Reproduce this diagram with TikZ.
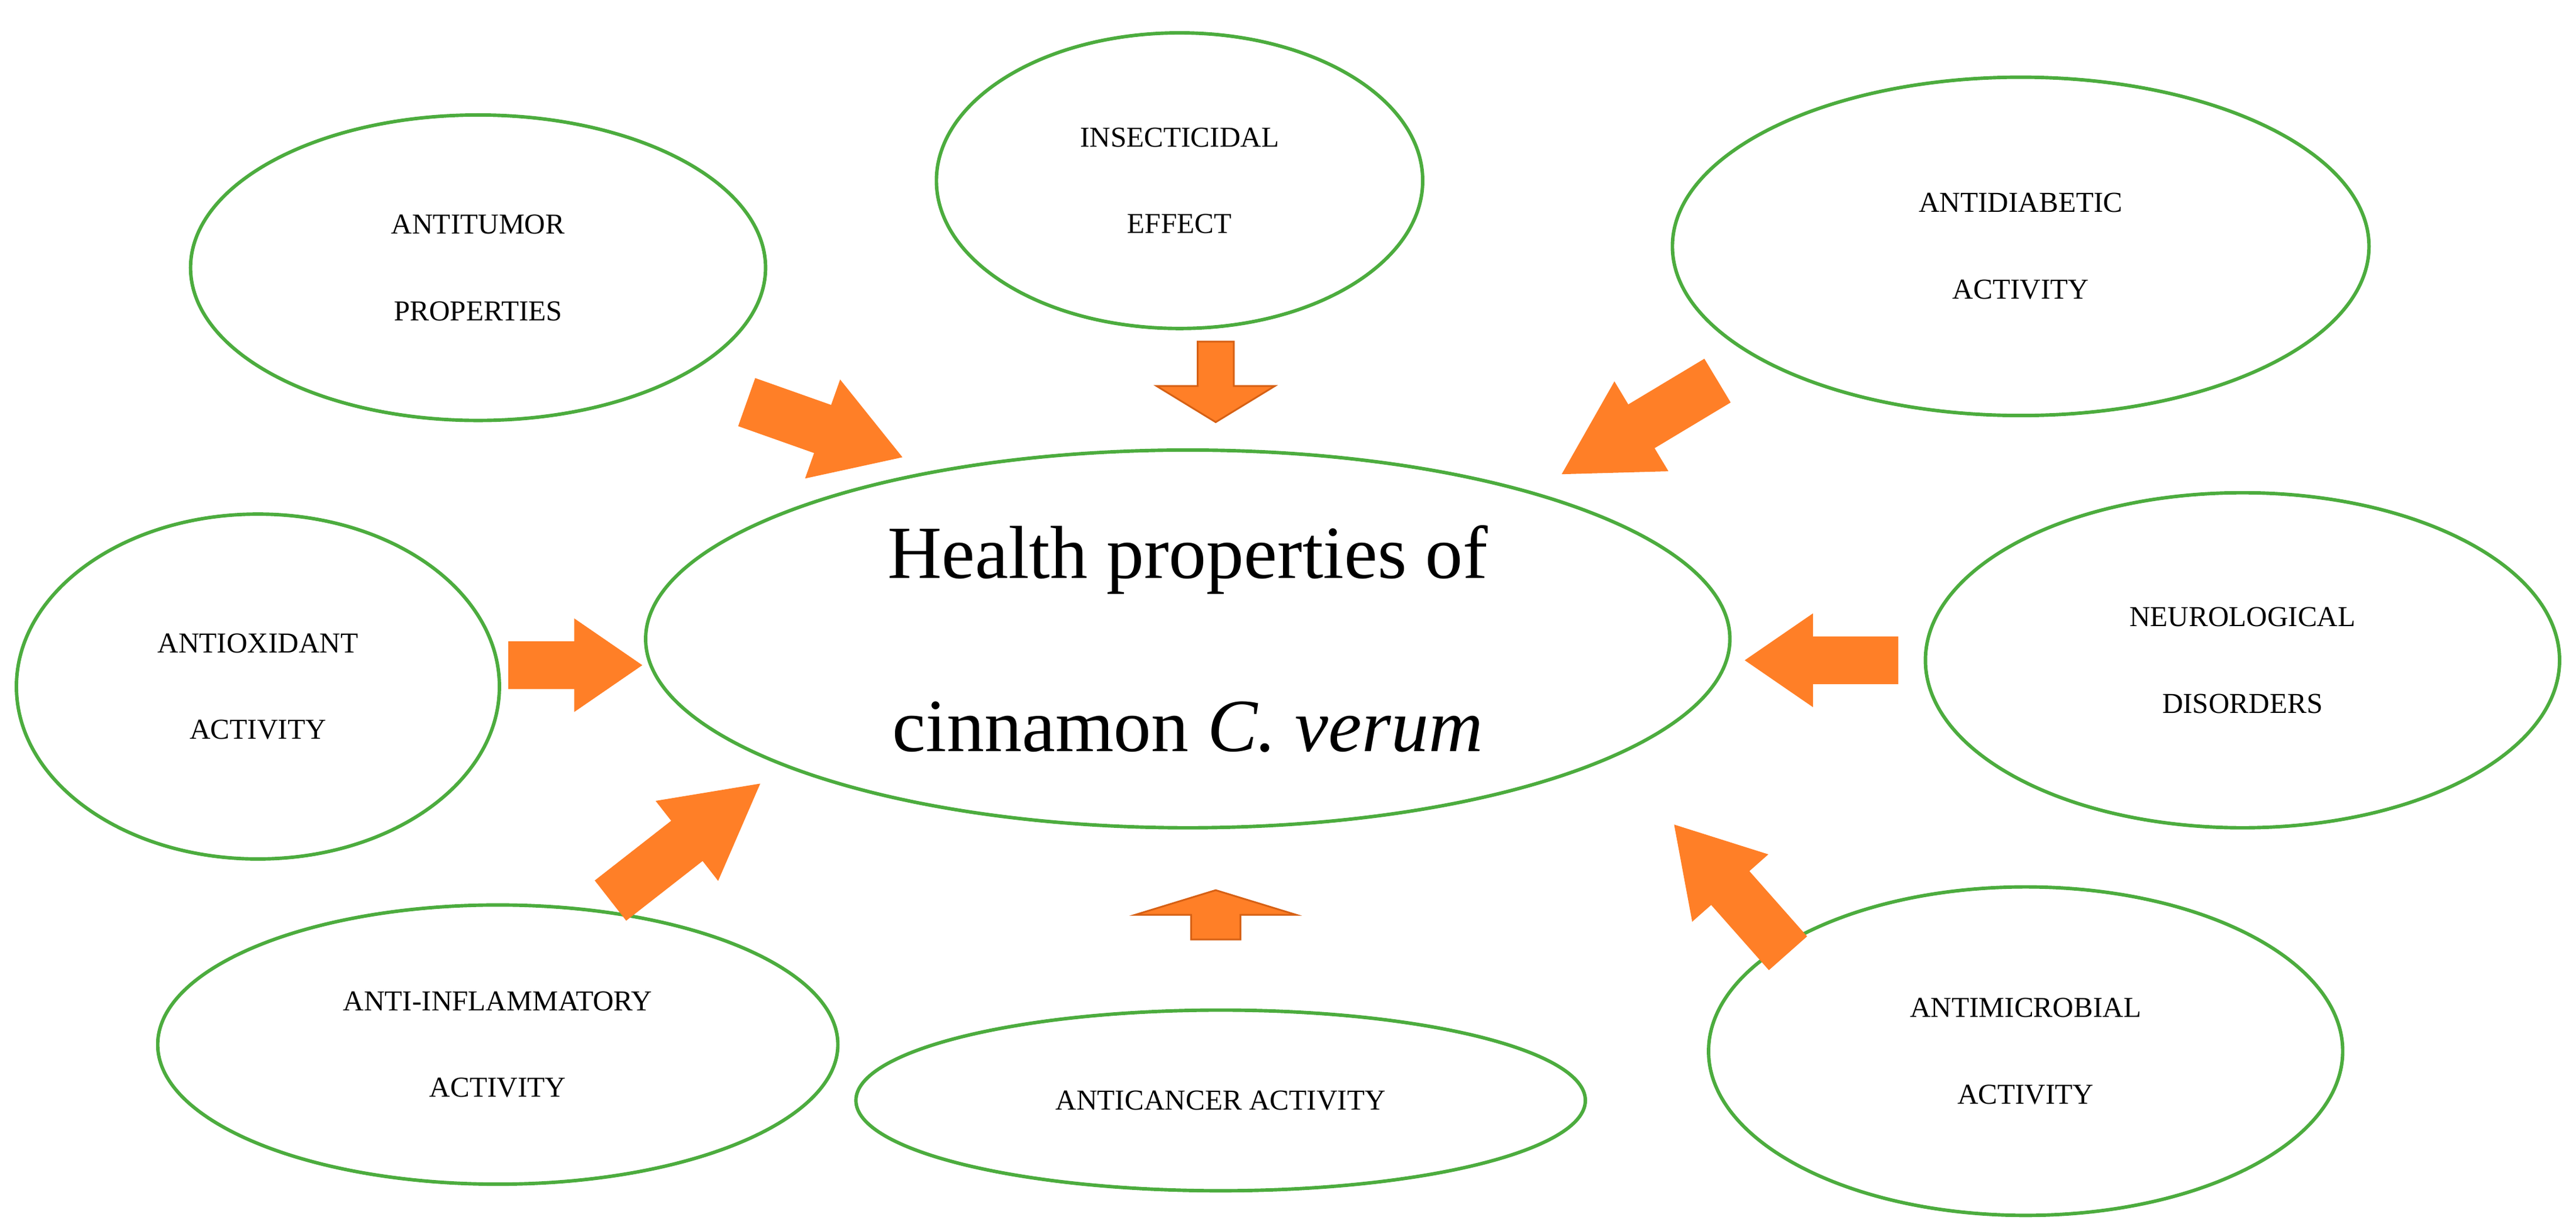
\documentclass[tikz,border=0pt]{standalone}
\usepackage{fontspec}
\setmainfont{Liberation Serif}
\begin{document}
\begin{tikzpicture}[x=0.01cm,y=-0.01cm,
  ell/.style={draw=grn,line width=0.6pt},
  lab/.style={font=\fontsize{5}{15}\selectfont,align=center}]
\definecolor{grn}{RGB}{76,172,62}
\definecolor{org}{RGB}{255,127,39}
\definecolor{dorg}{RGB}{214,96,20}
\useasboundingbox (0,0) rectangle (1568,745);
\newcommand\blk[7]{\begin{scope}[shift={(#1)},rotate=#2,x=1cm,y=1cm]
 \filldraw[fill=org,draw=#7,line width=0.3pt] (0,-#4/2) -- ({#3-#6},-#4/2) -- ({#3-#6},-#5/2) -- (#3,0) -- ({#3-#6},#5/2) -- ({#3-#6},#4/2) -- (0,#4/2) -- cycle;\end{scope}}
\draw[ell] (723,389) ellipse [x radius=330,y radius=115];
\node[font=\fontsize{13}{30}\selectfont,align=center] (c) at (723,389) {Health properties of\\cinnamon \textit{C. verum}};
\draw[ell] (291,163) ellipse [x radius=175,y radius=93];
\node[lab] (a1) at (291,163) {ANTITUMOR\\PROPERTIES};
\draw[ell] (718,110) ellipse [x radius=148,y radius=90];
\node[lab] (a2) at (718,110) {INSECTICIDAL\\EFFECT};
\draw[ell] (1230,150) ellipse [x radius=212,y radius=103];
\node[lab] (a3) at (1230,150) {ANTIDIABETIC\\ACTIVITY};
\draw[ell] (157,418) ellipse [x radius=147,y radius=105];
\node[lab] (a4) at (157,418) {ANTIOXIDANT\\ACTIVITY};
\draw[ell] (1365,402) ellipse [x radius=193,y radius=102];
\node[lab] (a5) at (1365,402) {NEUROLOGICAL\\DISORDERS};
\draw[ell] (303,636) ellipse [x radius=207,y radius=85];
\node[lab] (a6) at (303,636) {ANTI-INFLAMMATORY\\ACTIVITY};
\draw[ell] (743,670) ellipse [x radius=222,y radius=55];
\node[lab] (a7) at (743,670) {ANTICANCER ACTIVITY};
\draw[ell] (1233,640) ellipse [x radius=193,y radius=100];
\node[lab] (a8) at (1233,640) {ANTIMICROBIAL\\ACTIVITY};
\blk{455,245}{-19.5}{0.99}{0.3}{0.62}{0.5}{org}
\blk{740,208}{-90}{0.49}{0.22}{0.72}{0.22}{dorg}
\blk{1045,232}{-149}{1.09}{0.3}{0.62}{0.55}{org}
\blk{310,405}{0}{0.8}{0.28}{0.55}{0.4}{org}
\blk{1155,402}{180}{0.92}{0.28}{0.55}{0.4}{org}
\blk{372,548}{38}{1.14}{0.3}{0.6}{0.55}{org}
\blk{1088,580}{131.5}{1.03}{0.3}{0.6}{0.5}{org}
\blk{740,572}{90}{0.3}{0.3}{0.98}{0.15}{dorg}
\end{tikzpicture}
\end{document}
